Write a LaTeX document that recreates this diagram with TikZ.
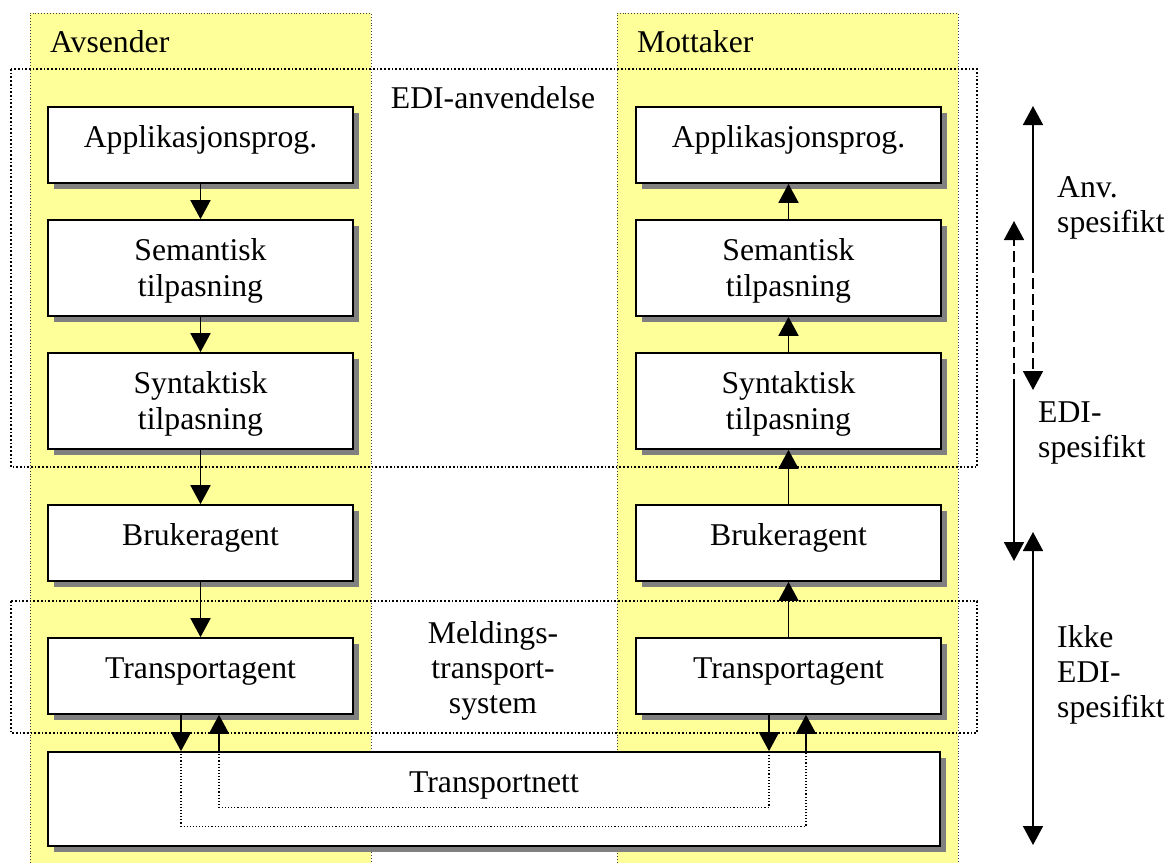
\documentclass[tikz,border=0pt]{standalone}
\usepackage{fontspec}
\setmainfont{Liberation Serif}
\usetikzlibrary{arrows.meta,shadows,calc}
\definecolor{colyel}{HTML}{FFFF99}
\begin{document}
\begin{tikzpicture}[x=1pt,y=-1pt,
  txt/.style={font=\fontsize{31.7}{35}\selectfont, inner sep=0pt},
  box/.style={txt, draw=black, line width=1.7pt, fill=white, minimum width=305pt,
    minimum height=76pt, align=center,
    drop shadow={shadow xshift=6pt, shadow yshift=-6pt, fill=black!50, opacity=1}},
  one/.style={text height=11pt, text depth=7pt},
  two/.style={minimum height=96pt, font=\fontsize{31.7}{36}\selectfont, text depth=1pt},
  arr/.style={line width=1.8pt, -{Triangle[length=19pt,width=20pt]}},
  darr/.style={line width=1.8pt, {Triangle[length=19pt,width=20pt]}-{Triangle[length=19pt,width=20pt]}},
  dsh/.style={dash pattern=on 11pt off 5pt},
  colfill/.style={fill=colyel},
  colline/.style={draw=black!75, dotted, line width=0.9pt},
  grp/.style={draw=black, dotted, line width=1.7pt},
  path/.style={draw=black, dotted, line width=1.1pt},
]
\useasboundingbox (0,0) rectangle (1175,863);
% columns
\fill[colfill] (30,13) rectangle (371,863);
\fill[colfill] (617,13) rectangle (958,863);
\draw[colline] (30,863) -- (30,13) -- (371,13) -- (371,863);
\draw[colline] (617,863) -- (617,13) -- (958,13) -- (958,863);
% group boxes
\draw[grp] (11,69) rectangle (977,467);
\draw[grp] (11,601) rectangle (977,733);
% labels
\node[txt, anchor=base west] (avs) at (50,52) {Avsender};
\node[txt, anchor=base west] (mot) at (637,52) {Mottaker};
\node[txt, anchor=base] (edia) at (493,108) {EDI-anvendelse};
\node[txt, anchor=base, align=center] (mts) at (493,713) {Meldings-\\transport-\\system};
% left boxes
\node[box, one] (app1) at (200.5,145) {Applikasjonsprog.};
\node[box, two] (sem1) at (200.5,268) {Semantisk\\tilpasning};
\node[box, two] (syn1) at (200.5,401) {Syntaktisk\\tilpasning};
\node[box, one] (bru1) at (200.5,543) {Brukeragent};
\node[box, one] (tra1) at (200.5,676) {Transportagent};
% right boxes
\node[box, one] (app2) at (788.5,145) {Applikasjonsprog.};
\node[box, two] (sem2) at (788.5,268) {Semantisk\\tilpasning};
\node[box, two] (syn2) at (788.5,401) {Syntaktisk\\tilpasning};
\node[box, one] (bru2) at (788.5,543) {Brukeragent};
\node[box, one] (tra2) at (788.5,676) {Transportagent};
% net
\node[box, minimum width=892pt, minimum height=94pt, text height=0pt, text depth=14pt] (net) at (494,799) {Transportnett};
% arrows left
\draw[arr] (app1) -- (sem1);
\draw[arr] (sem1) -- (syn1);
\draw[arr] (syn1) -- (bru1);
\draw[arr] (bru1) -- (tra1);
% arrows right
\draw[arr] (sem2) -- (app2);
\draw[arr] (syn2) -- (sem2);
\draw[arr] (bru2) -- (syn2);
\draw[arr] (tra2) -- (bru2);
% transport arrows
\coordinate (l1) at ([xshift=-19.5pt]tra1.south);
\coordinate (l2) at ([xshift=18.5pt]tra1.south);
\coordinate (r1) at ([xshift=-19.5pt]tra2.south);
\coordinate (r2) at ([xshift=17.5pt]tra2.south);
\draw[arr] (l1) -- (l1 |- net.north);
\draw[arr] (l2 |- net.north) -- (l2);
\draw[arr] (r1) -- (r1 |- net.north);
\draw[arr] (r2 |- net.north) -- (r2);
\draw[path] (l1 |- net.north) -- ++(0,75) -| (r2 |- net.north);
\draw[path] (l2 |- net.north) -- ++(0,56) -| (r1 |- net.north);
% right-side range arrows
\coordinate (a1t) at (1033,106);
\coordinate (a1m) at (1033,262);
\coordinate (a1b) at (1033,390);
\coordinate (a2t) at (1014,221);
\coordinate (a2m) at (1014,390);
\coordinate (a2b) at (1014,561);
\coordinate (a3t) at (1033,532);
\coordinate (a3b) at (1033,845);
\draw[arr] (a1m) -- (a1t);
\draw[arr, dsh] (a1m) -- (a1b);
\draw[arr, dsh] (a2m) -- (a2t);
\draw[arr] (a2m) -- (a2b);
\draw[darr] (a3t) -- (a3b);
\node[txt, anchor=base west, align=left] (lab1) at (1057,232) {Anv.\\spesifikt};
\node[txt, anchor=base west, align=left] (lab2) at (1038,457) {EDI-\\spesifikt};
\node[txt, anchor=base west, align=left] (lab3) at (1057,717) {Ikke\\EDI-\\spesifikt};
\end{tikzpicture}
\end{document}
